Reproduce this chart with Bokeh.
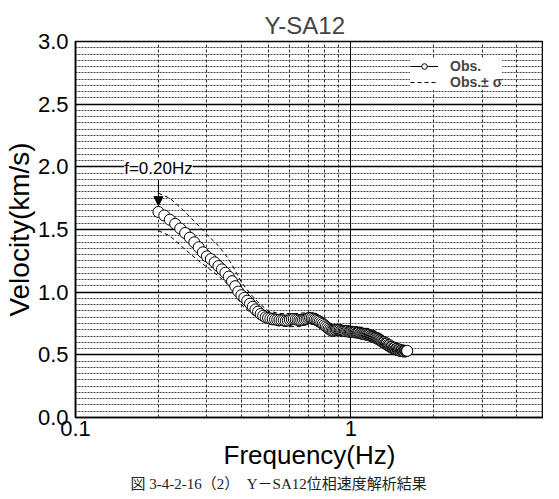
from bokeh.plotting import figure
from bokeh.models import (FixedTicker, Legend, LegendItem, Label, Arrow, NormalHead,
                          Title, NumeralTickFormatter)
from bokeh.embed import file_html
from bokeh.resources import INLINE

# ---------------- data ----------------
freq = [0.20, 0.21, 0.22, 0.23, 0.24, 0.25, 0.26, 0.27, 0.28, 0.29,
        0.30, 0.31, 0.32, 0.33, 0.34, 0.35, 0.36, 0.37, 0.38, 0.39,
        0.40, 0.41, 0.42, 0.43, 0.44, 0.45, 0.46, 0.47, 0.48, 0.49,
        0.50, 0.51, 0.52, 0.53, 0.54, 0.55, 0.56, 0.57, 0.58, 0.59,
        0.60, 0.61, 0.62, 0.63, 0.64, 0.65, 0.66, 0.67, 0.68, 0.69,
        0.70, 0.71, 0.72, 0.73, 0.74, 0.75, 0.76, 0.77, 0.78, 0.79,
        0.80, 0.81, 0.82, 0.83, 0.84, 0.85, 0.86, 0.87, 0.88, 0.89,
        0.90, 0.91, 0.92, 0.93, 0.94, 0.95, 0.96, 0.97, 0.98, 0.99,
        1.00, 1.01, 1.02, 1.03, 1.04, 1.05, 1.06, 1.07, 1.08, 1.09,
        1.10, 1.11, 1.12, 1.13, 1.14, 1.15, 1.16, 1.17, 1.18, 1.19,
        1.20, 1.21, 1.22, 1.23, 1.24, 1.25, 1.26, 1.27, 1.28, 1.29,
        1.30, 1.31, 1.32, 1.33, 1.34, 1.35, 1.36, 1.37, 1.38, 1.39,
        1.40, 1.41, 1.42, 1.43, 1.44, 1.45, 1.46, 1.47, 1.48, 1.49,
        1.50, 1.51, 1.52, 1.53, 1.54, 1.55, 1.56, 1.57, 1.58, 1.59,
        1.60]

velocity = [1.640, 1.612, 1.578, 1.545, 1.508, 1.472, 1.435, 1.398, 1.358, 1.318,
            1.286, 1.264, 1.238, 1.208, 1.182, 1.155, 1.124, 1.088, 1.048, 1.005,
            0.976, 0.955, 0.932, 0.908, 0.884, 0.862, 0.845, 0.826, 0.812, 0.800,
            0.794, 0.790, 0.786, 0.782, 0.780, 0.778, 0.776, 0.775, 0.772, 0.773,
            0.779, 0.784, 0.786, 0.783, 0.780, 0.777, 0.776, 0.779, 0.783, 0.787,
            0.792, 0.795, 0.793, 0.788, 0.783, 0.778, 0.772, 0.765, 0.756, 0.747,
            0.737, 0.727, 0.718, 0.709, 0.701, 0.695, 0.692, 0.694, 0.697, 0.699,
            0.700, 0.698, 0.694, 0.692, 0.690, 0.689, 0.688, 0.690, 0.686, 0.684,
            0.683, 0.684, 0.681, 0.680, 0.682, 0.678, 0.676, 0.677, 0.673, 0.670,
            0.668, 0.669, 0.665, 0.662, 0.664, 0.660, 0.656, 0.658, 0.652, 0.648,
            0.646, 0.642, 0.639, 0.636, 0.632, 0.630, 0.624, 0.620, 0.615, 0.610,
            0.604, 0.598, 0.601, 0.592, 0.586, 0.590, 0.578, 0.572, 0.576, 0.565,
            0.560, 0.564, 0.553, 0.550, 0.556, 0.545, 0.541, 0.548, 0.538, 0.535,
            0.542, 0.533, 0.530, 0.537, 0.528, 0.531, 0.526, 0.533, 0.528, 0.530,
            0.532]

sigma_freq = [0.20, 0.22, 0.25, 0.28, 0.30, 0.33, 0.35, 0.37, 0.40, 0.43,
              0.46, 0.50, 0.55, 0.60, 0.65, 0.70, 0.75, 0.80, 0.85, 0.90,
              1.00, 1.10, 1.20, 1.30, 1.40, 1.50, 1.60]
vel_plus_sigma = [1.79, 1.75, 1.64, 1.53, 1.46, 1.37, 1.30, 1.22, 1.08, 0.99,
                  0.92, 0.85, 0.83, 0.83, 0.83, 0.84, 0.83, 0.78, 0.73, 0.73,
                  0.72, 0.72, 0.70, 0.66, 0.61, 0.575, 0.56]
vel_minus_sigma = [1.49, 1.45, 1.34, 1.25, 1.20, 1.13, 1.08, 1.03, 0.90, 0.84,
                   0.79, 0.745, 0.73, 0.725, 0.725, 0.745, 0.74, 0.69, 0.645, 0.665,
                   0.655, 0.635, 0.60, 0.56, 0.525, 0.51, 0.505]

x_major = [0.1, 1.0]
x_minor = [0.2, 0.3, 0.4, 0.5, 0.6, 0.7, 0.8, 0.9, 2.0, 3.0, 4.0]
y_major = [0.0, 0.5, 1.0, 1.5, 2.0, 2.5, 3.0]
y_minor = [round(0.05 * i, 2) for i in range(61) if i % 10 != 0]

title_text = "Y-SA12"
x_title = "Frequency(Hz)"
y_title = "Velocity(km/s)"
caption = "図 3-4-2-16（2）　Y－SA12位相速度解析結果"
annot_text = "f=0.20Hz"

FONT = "Liberation Sans"

# ---------------- figure ----------------
p = figure(width=543, height=497, x_axis_type="log", x_range=(0.1, 5.0), y_range=(0.0, 3.0),
           output_backend="svg", toolbar_location=None,
           min_border_left=70, min_border_right=0, min_border_top=41, min_border_bottom=80)
p.background_fill_color = "white"
p.border_fill_color = "white"
p.outline_line_color = "black"
p.outline_line_width = 1.5

p.title.text = title_text
p.title.text_font = FONT
p.title.text_font_size = "24px"
p.title.text_font_style = "normal"
p.title.align = "left"
p.title.offset = 189
p.title.standoff = 2
p.title.vertical_align = "top"

xt = FixedTicker(ticks=x_major, minor_ticks=x_minor)
yt = FixedTicker(ticks=y_major, minor_ticks=y_minor)
p.xaxis.ticker = xt
p.yaxis.ticker = yt
p.xgrid.ticker = xt
p.ygrid.ticker = yt

p.xaxis.formatter = NumeralTickFormatter(format="0.[0]")
p.yaxis.formatter = NumeralTickFormatter(format="0.0")

for ax in (p.xaxis[0], p.yaxis[0]):
    ax.axis_line_color = "black"
    ax.axis_line_width = 1.5
    ax.major_tick_in = 0
    ax.major_tick_out = 0
    ax.minor_tick_in = 0
    ax.minor_tick_out = 0
    ax.major_label_text_font = FONT
    ax.major_label_text_font_size = "22px"
    ax.major_label_text_color = "black"
    ax.axis_label_text_font = FONT
    ax.axis_label_text_font_style = "normal"
    ax.axis_label_text_color = "black"
    ax.axis_label_standoff = 0

p.xaxis.axis_label = x_title
p.yaxis.axis_label = y_title
p.xaxis.axis_label_text_font_size = "26px"
p.yaxis.axis_label_text_font_size = "28px"
p.xaxis.major_label_standoff = 3
p.xaxis.axis_label_standoff = 1
p.yaxis.major_label_standoff = 7

p.xgrid.grid_line_color = "black"
p.xgrid.grid_line_width = 1
p.xgrid.minor_grid_line_color = "#333333"
p.xgrid.minor_grid_line_dash = "3 2"
p.xgrid.minor_grid_line_width = 1
p.ygrid.grid_line_color = "black"
p.ygrid.grid_line_width = 1.4
p.ygrid.minor_grid_line_color = "#444444"
p.ygrid.minor_grid_line_dash = "2 1"
p.ygrid.minor_grid_line_width = 1

# sigma lines
r_up = p.line(sigma_freq, vel_plus_sigma, line_color="black", line_width=1, line_dash="4 3")
r_lo = p.line(sigma_freq, vel_minus_sigma, line_color="black", line_width=1, line_dash="4 3")
# observed
r_line = p.line(freq, velocity, line_color="black", line_width=1)
r_circ = p.scatter(freq, velocity, size=11, marker="circle", fill_color="white",
                   line_color="black", line_width=1)

legend = Legend(items=[LegendItem(label="Obs.", renderers=[r_line, r_circ]),
                       LegendItem(label="Obs.± σ", renderers=[r_up])],
                location=(335, 327))
legend.background_fill_color = "white"
legend.background_fill_alpha = 1
legend.border_line_color = None
legend.label_text_font = FONT
legend.label_text_font_size = "14px"
legend.label_text_font_style = "bold"
legend.glyph_width = 28
legend.glyph_height = 14
legend.label_height = 14
legend.label_standoff = 12
legend.spacing = 0
legend.padding = 3
legend.margin = 0
p.add_layout(legend)

# annotation
lab = Label(x=freq[0], y=velocity[0] + 0.345, text=annot_text, text_align="center",
            text_baseline="middle", text_font=FONT, text_font_size="17px",
            text_color="black", background_fill_color="white", background_fill_alpha=1)
p.add_layout(lab)
arr = Arrow(end=NormalHead(size=9, fill_color="black", line_color="black"),
            x_start=freq[0], y_start=velocity[0] + 0.25,
            x_end=freq[0], y_end=velocity[0] + 0.05, line_color="black", line_width=1)
p.add_layout(arr)

cap = Title(text=caption, align="left", offset=55, standoff=2,
            text_font="'Liberation Serif', 'Noto Sans CJK JP'", text_font_size="15px",
            text_font_style="normal", text_color="#222222")
p.add_layout(cap, "below")

open("out.html", "w").write(file_html(p, INLINE))
